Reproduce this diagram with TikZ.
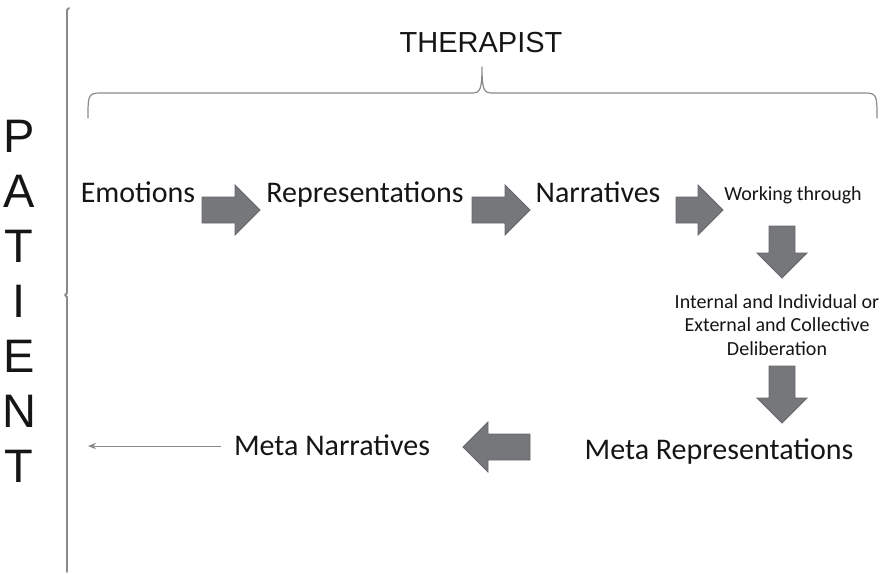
\documentclass[tikz,border=0pt]{standalone}
\usepackage{fontspec}
\setmainfont{Carlito}
\newfontfamily\arialfont{Liberation Sans}
\usetikzlibrary{arrows.meta}
\definecolor{txtcol}{HTML}{151515}
\definecolor{linecol}{HTML}{8A8A8A}
\definecolor{blockcol}{HTML}{76777A}
\definecolor{blockedge}{HTML}{66676A}
\tikzset{
	lbl/.style={font=\fontsize{15}{18}\selectfont, text=txtcol, inner sep=0pt, anchor=base},
	smalllbl/.style={font=\fontsize{10}{11.75}\selectfont, text=txtcol, inner sep=0pt},
	bigcaps/.style={font=\arialfont\fontsize{23.5}{28}\selectfont, text=txtcol, inner sep=0pt, anchor=base},
	blockfill/.style={fill=blockcol, draw=blockedge, line width=0.4pt, line join=miter},
	thinarrow/.style={draw=linecol, line width=0.5pt, -{Stealth[length=4pt,width=3.2pt]}}
}
% block arrow: tail point, angle, length of the body
\newcommand{\blockarrow}[3]{%
	\begin{scope}[shift={#1}, rotate=#2]
		\filldraw[blockfill] (0,-13) -- (#3,-13) -- (#3,-25) -- ({#3+25},0) -- (#3,25) -- (#3,13) -- (0,13) -- cycle;
	\end{scope}}
\begin{document}
\begin{tikzpicture}[x=0.5pt, y=-0.5pt, line join=round, line cap=round]
		\useasboundingbox (0,0) rectangle (881,574);
		% patient side
		\draw[linecol, line width=0.9pt] (69,8) -- (67,10) -- (67,293) -- (65,295) -- (67,297) -- (67,572);
		\foreach \ch [count=\i from 0] in {P,A,T,I,E,N,T}
			\node[bigcaps] (pat\i) at (19,152+55*\i) {\ch};
		% therapist brace
		\node[font=\arialfont\fontsize{14.5}{17}\selectfont, text=txtcol, inner sep=0pt, anchor=base] (ther) at (481,52) {THERAPIST};
		\draw[linecol, line width=0.6pt] (88,118) .. controls (88,96) and (88,93) .. (100,93) -- (472,93)
			.. controls (480,93) and (482,90) .. (482,67) .. controls (482,90) and (484,93) .. (492,93)
			-- (865,93) .. controls (877,93) and (877,96) .. (877,118);
		% steps
		\node[lbl] (emo) at (138,202) {Emotions};
		\node[lbl] (rep) at (365,202) {Representations};
		\node[lbl] (nar) at (598,202) {Narratives};
		\node[smalllbl, anchor=base] (work) at (793,200) {Working through};
		\node[smalllbl, align=center] (delib) at (777,325) {Internal and Individual or\\External and Collective\\Deliberation};
		\node[lbl] (metarep) at (719,459) {Meta Representations};
		\node[lbl] (metanar) at (332,455) {Meta Narratives};
		\coordinate (patend) at (88,446);
		% arrows
		\blockarrow{(202,210)}{0}{33}
		\blockarrow{(472,210)}{0}{33}
		\blockarrow{(676,210)}{0}{22}
		\blockarrow{(782,226)}{-90}{27}
		\blockarrow{(782,366)}{-90}{32}
		\blockarrow{(530,447)}{180}{42}
		\draw[thinarrow] (patend -| metanar.west) ++(-13,0) -- (patend);
		
\end{tikzpicture}
\end{document}
